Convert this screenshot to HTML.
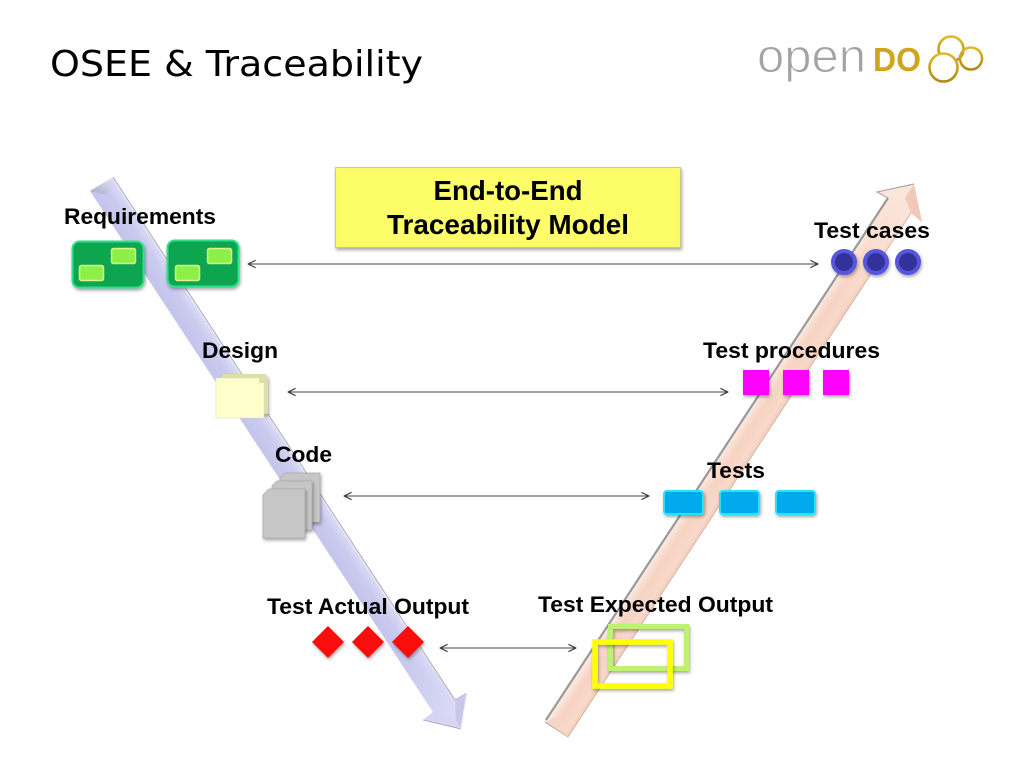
<!DOCTYPE html>
<html>
<head>
<meta charset="utf-8">
<style>
html,body{margin:0;padding:0;background:#fff;width:1024px;height:768px;overflow:hidden}
svg{display:block}
text{font-family:"Liberation Sans",sans-serif;font-weight:bold;fill:#000}
</style>
</head>
<body>
<svg width="1024" height="768" viewBox="0 0 1024 768" xmlns="http://www.w3.org/2000/svg">
<defs>
<filter id="s" x="-30%" y="-30%" width="160%" height="160%"><feDropShadow dx="1" dy="2" stdDeviation="1.5" flood-color="#000" flood-opacity=".35"/></filter>
<linearGradient id="lg" gradientUnits="userSpaceOnUse" x1="90" y1="191" x2="112.500" y2="176.300"><stop offset="0" stop-color="#c4c4ec"/><stop offset=".6" stop-color="#cbcbf0"/><stop offset=".9" stop-color="#d8d8f5"/><stop offset="1" stop-color="#eeeefa"/></linearGradient>
<linearGradient id="lhead" gradientUnits="userSpaceOnUse" x1="400" y1="640" x2="460" y2="725"><stop offset="0" stop-color="#d0d0f2" stop-opacity="0"/><stop offset="1" stop-color="#dedef8"/></linearGradient>
<linearGradient id="rg" gradientUnits="userSpaceOnUse" x1="545" y1="722" x2="568" y2="737"><stop offset="0" stop-color="#fbeee8"/><stop offset=".18" stop-color="#f9e0d4"/><stop offset=".4" stop-color="#f7d3c2"/><stop offset=".85" stop-color="#f8d9ca"/><stop offset="1" stop-color="#f1cdbd"/></linearGradient>
<linearGradient id="rtop" gradientUnits="userSpaceOnUse" x1="830" y1="290" x2="905" y2="190"><stop offset="0" stop-color="#fbe3d8" stop-opacity="0"/><stop offset="1" stop-color="#fbe6dc"/></linearGradient>
<linearGradient id="tl" x1="1" y1="0" x2="0" y2="1"><stop offset="0" stop-color="#e6e6f4"/><stop offset="1" stop-color="#a5a5cc"/></linearGradient>
<linearGradient id="gold" x1="0" y1="0" x2="0" y2="1"><stop offset="0" stop-color="#e0b92c"/><stop offset="1" stop-color="#b08a14"/></linearGradient>
<marker id="a" viewBox="0 0 10 10" refX="9.5" refY="5" markerWidth="9" markerHeight="9" orient="auto-start-reverse" markerUnits="userSpaceOnUse"><path d="M1 1L9.5 5L1 9" fill="none" stroke="#333" stroke-width="1.2"/></marker>
</defs>

<text x="50" y="76" style="font-family:'DejaVu Sans',sans-serif;font-weight:normal;font-size:36px" textLength="373" lengthAdjust="spacingAndGlyphs">OSEE &amp; Traceability</text>

<!-- logo -->
<text x="757" y="72" style="font-weight:normal;font-size:47px;fill:#a3a3a3;stroke:#fff;stroke-width:1px" textLength="109" lengthAdjust="spacingAndGlyphs">open</text>
<text x="873" y="71" style="font-size:33px;fill:#cfa51f" textLength="48" lengthAdjust="spacingAndGlyphs">DO</text>
<g fill="none" stroke="url(#gold)" stroke-width="2.6">
<circle cx="951" cy="49" r="12.500"/>
<circle cx="971" cy="58.500" r="11"/>
<circle cx="943.500" cy="67.500" r="14" fill="#fff"/>
</g>

<!-- left arrow -->
<path d="M113 177L455 700L467 693L461 729L423 720L433 712L90 191Z" fill="url(#lg)"/>
<path d="M113 177L455 700L467 693L461 729L423 720L433 712L90 191Z" fill="url(#lhead)"/>
<path d="M113 177L455 700L467 693" fill="none" stroke="#a8a8a8" stroke-width=".9"/>
<path d="M113 177L90 191L107 195Z" fill="url(#tl)"/>
<path d="M455 700L467 693L461 729L456 720Z" fill="#c8c8ea"/>
<path d="M423 720L461 729L456 720L433 712Z" fill="#d6d6f3"/>
<path d="M423 720L461 729" fill="none" stroke="#9d9db8" stroke-width=".8"/>
<path d="M461 729L467 693" fill="none" stroke="#f2f2fa" stroke-width="1.200"/>

<!-- right arrow -->
<path d="M545 722L888 198L877 192L914 184L922 222L911 213L568 737Z" fill="url(#rg)"/>
<path d="M545 722L888 198L877 192L914 184L922 222L911 213L568 737Z" fill="url(#rtop)"/>
<path d="M546 720L888 198" fill="none" stroke="#999" stroke-width="2.200"/>
<path d="M888 198L877 192L914 184" fill="none" stroke="#aaa" stroke-width="1.200"/>
<path d="M568 737L911 213" fill="none" stroke="#c8a898" stroke-width=".7"/>
<path d="M545 722L568 737" fill="none" stroke="#b09a90" stroke-width="1"/>
<path d="M546 722L558 716L562 725L568 737Z" fill="#f5d6c8"/>
<path d="M914 184L922 222L911 213L905 198Z" fill="#f0c9b8"/>

<!-- yellow box -->
<rect x="335.500" y="167.500" width="345" height="80" fill="#fbfb66" stroke="#c9c98c" filter="url(#s)"/>
<rect x="342" y="174" width="332" height="67" fill="#fdfd6a"/>
<text x="508" y="200" text-anchor="middle" font-size="28" textLength="149" lengthAdjust="spacingAndGlyphs">End-to-End</text>
<text x="508" y="234" text-anchor="middle" font-size="28" textLength="242" lengthAdjust="spacingAndGlyphs">Traceability Model</text>

<!-- connectors -->
<g stroke="#444" stroke-width="1" fill="none">
<line x1="248" y1="264" x2="818" y2="264" marker-start="url(#a)" marker-end="url(#a)"/>
<line x1="288" y1="392" x2="728" y2="392" marker-start="url(#a)" marker-end="url(#a)"/>
<line x1="344" y1="496" x2="649" y2="496" marker-start="url(#a)" marker-end="url(#a)"/>
<line x1="440" y1="648" x2="576" y2="648" marker-start="url(#a)" marker-end="url(#a)"/>
</g>

<!-- requirements -->
<g filter="url(#s)">
<rect x="72.500" y="241.500" width="71" height="46" rx="7" fill="#0aa54f" stroke="#2fe08a" stroke-width="2"/>
<rect x="111.500" y="248.500" width="24" height="15" rx="2" fill="#8cf048" stroke="#dcf58a" stroke-width="1.500"/>
<rect x="79.500" y="265.500" width="24" height="15" rx="2" fill="#8cf048" stroke="#dcf58a" stroke-width="1.500"/>
<rect x="167.500" y="240.500" width="71" height="46" rx="7" fill="#0aa54f" stroke="#2fe08a" stroke-width="2"/>
<rect x="207.500" y="248.500" width="24" height="15" rx="2" fill="#8cf048" stroke="#dcf58a" stroke-width="1.500"/>
<rect x="175.500" y="265.500" width="24" height="15" rx="2" fill="#8cf048" stroke="#dcf58a" stroke-width="1.500"/>
</g>

<!-- design -->
<path d="M220 378L224 374H265L268 378V414H262V380Z" fill="#dedead" filter="url(#s)"/>
<path d="M216 378H259L264 383V418H216Z" fill="#ffffcc" stroke="#dcdcb8" stroke-width=".6"/>
<path d="M259 378L259 383H264Z" fill="#dcdca8"/>

<!-- code -->
<path d="M285 473H320V522H280V478Z" fill="#c6c6c6" stroke="#aaa" stroke-width=".7" filter="url(#s)"/>
<path d="M277 481H312V530H272V486Z" fill="#c6c6c6" stroke="#aaa" stroke-width=".7" filter="url(#s)"/>
<path d="M269 489H305V538H263V495Z" fill="#c6c6c6" stroke="#aaa" stroke-width=".7" filter="url(#s)"/>

<!-- diamonds -->
<g fill="#fb0a0a" filter="url(#s)">
<path d="M328 626L344 642L328 658L312 642Z"/>
<path d="M368 626L384 642L368 658L352 642Z"/>
<path d="M408 626L424 642L408 658L392 642Z"/>
</g>

<!-- expected output -->
<rect x="610.500" y="626.500" width="76" height="42" fill="none" stroke="#bef272" stroke-width="5" filter="url(#s)"/>
<rect x="595" y="642" width="75" height="44" fill="none" stroke="#ffff00" stroke-width="5.500" filter="url(#s)"/>

<!-- test cases -->
<g filter="url(#s)">
<circle cx="844" cy="262" r="11" fill="#33339a" stroke="#5656dc" stroke-width="4"/>
<circle cx="876" cy="262" r="11" fill="#33339a" stroke="#5656dc" stroke-width="4"/>
<circle cx="908" cy="262" r="11" fill="#33339a" stroke="#5656dc" stroke-width="4"/>
</g>

<!-- procedures -->
<g fill="#ff00ff" filter="url(#s)">
<rect x="743" y="370" width="26" height="25"/>
<rect x="783" y="370" width="26" height="25"/>
<rect x="823" y="370" width="26" height="25"/>
</g>

<!-- tests -->
<g fill="#00a8ec" stroke="#22e6f0" stroke-width="2" filter="url(#s)">
<rect x="664" y="491" width="39" height="23" rx="3"/>
<rect x="720" y="491" width="39" height="23" rx="3"/>
<rect x="776" y="491" width="39" height="23" rx="3"/>
</g>

<!-- labels -->
<g font-size="22">
<text x="64" y="224" textLength="152" lengthAdjust="spacingAndGlyphs">Requirements</text>
<text x="202" y="358" textLength="76" lengthAdjust="spacingAndGlyphs">Design</text>
<text x="275" y="462" textLength="57" lengthAdjust="spacingAndGlyphs">Code</text>
<text x="267" y="614" textLength="202" lengthAdjust="spacingAndGlyphs">Test Actual Output</text>
<text x="538" y="612" textLength="235" lengthAdjust="spacingAndGlyphs">Test Expected Output</text>
<text x="814" y="238" textLength="116" lengthAdjust="spacingAndGlyphs">Test cases</text>
<text x="703" y="358" textLength="177" lengthAdjust="spacingAndGlyphs">Test procedures</text>
<text x="707" y="478" textLength="58" lengthAdjust="spacingAndGlyphs">Tests</text>
</g>
</svg>
</body>
</html>
